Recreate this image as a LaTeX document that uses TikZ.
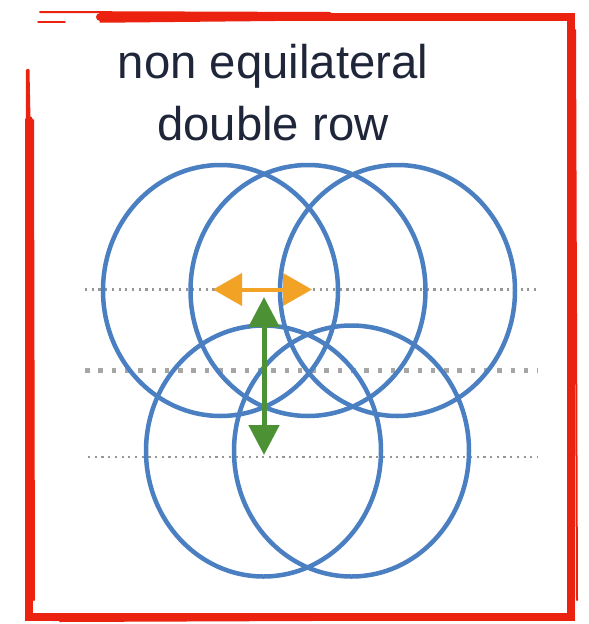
\documentclass[tikz,border=0pt]{standalone}
\usepackage{fontspec}
\setmainfont{Liberation Sans}
\usetikzlibrary{arrows.meta,shapes.geometric}
\definecolor{framered}{RGB}{236,34,16}
\definecolor{ringblue}{RGB}{74,127,193}
\definecolor{titlenavy}{RGB}{32,38,58}
\definecolor{arrorange}{RGB}{242,162,36}
\definecolor{arrgreen}{RGB}{76,145,52}
\definecolor{dotgray}{RGB}{150,150,150}
\tikzset{
  ring/.style={ellipse, draw=ringblue, line width=4.5pt, minimum width=235pt, minimum height=251pt, inner sep=0pt, outer sep=0pt},
  fineline/.style={draw=dotgray, line width=2.2pt, dash pattern=on 2.2pt off 4.5pt},
  coarseline/.style={draw=dotgray!85, line width=4.5pt, dash pattern=on 4.5pt off 8.8pt},
  framestroke/.style={draw=framered, line cap=round},
  harrow/.style={draw=arrorange, line width=4pt, {Triangle[length=29pt,width=32pt]}-{Triangle[length=29pt,width=32pt]}},
  varrow/.style={draw=arrgreen, line width=5pt, {Triangle[length=30pt,width=30pt]}-{Triangle[length=30pt,width=30pt]}},
  title/.style={text=titlenavy, align=center, font=\fontsize{47.3}{62}\selectfont, inner sep=0pt}
}
\begin{document}
\begin{tikzpicture}[x=1pt,y=-1pt]
\useasboundingbox (0,0) rectangle (589,624);
\fill[white] (0,0) rectangle (589,624);
% frame
\draw[framestroke, line width=8pt] (100,17) -- (571,17) -- (571,617) -- (29,617) -- (29,120);
\draw[framestroke, line width=3pt] (29,120) -- (28,70);
\draw[framestroke, line width=2pt] (40,12) -- (330,13);
\draw[framestroke, line width=1.5pt] (38,22) -- (65,22);
\draw[framestroke, line width=2pt] (27,70) -- (26,618);
\draw[framestroke, line width=2pt] (33,120) -- (34,600);
\draw[framestroke, line width=2pt] (575,30) -- (577,600);
\draw[framestroke, line width=2pt] (60,621) -- (560,619);
\draw[framestroke, line width=1.5pt] (100,22) -- (300,20);
% title
\node[title, anchor=base] (t1) at (273,78) {non equilateral};
\node[title, anchor=base] (t2) at (273,140) {double row};
% dotted guide lines
\draw[fineline] (85,289.5) -- (540,289.5);
\draw[coarseline] (85,370.5) -- (538,370.5);
\draw[fineline] (88,457) -- (538,457);
% rings
\node[ring] (c1) at (220.5,290.5) {};
\node[ring] (c2) at (308,290.5) {};
\node[ring] (c3) at (397.5,290.5) {};
\node[ring] (c4) at (263.5,451) {};
\node[ring] (c5) at (351.5,451) {};
% arrows
\coordinate (hl) at (213,289.5);
\coordinate (hr) at (312,289.5);
\coordinate (vt) at (264,297);
\coordinate (vb) at (264,455);
\draw[harrow] (hl) -- (hr);
\draw[varrow] (vt) -- (vb);
\end{tikzpicture}
\end{document}
